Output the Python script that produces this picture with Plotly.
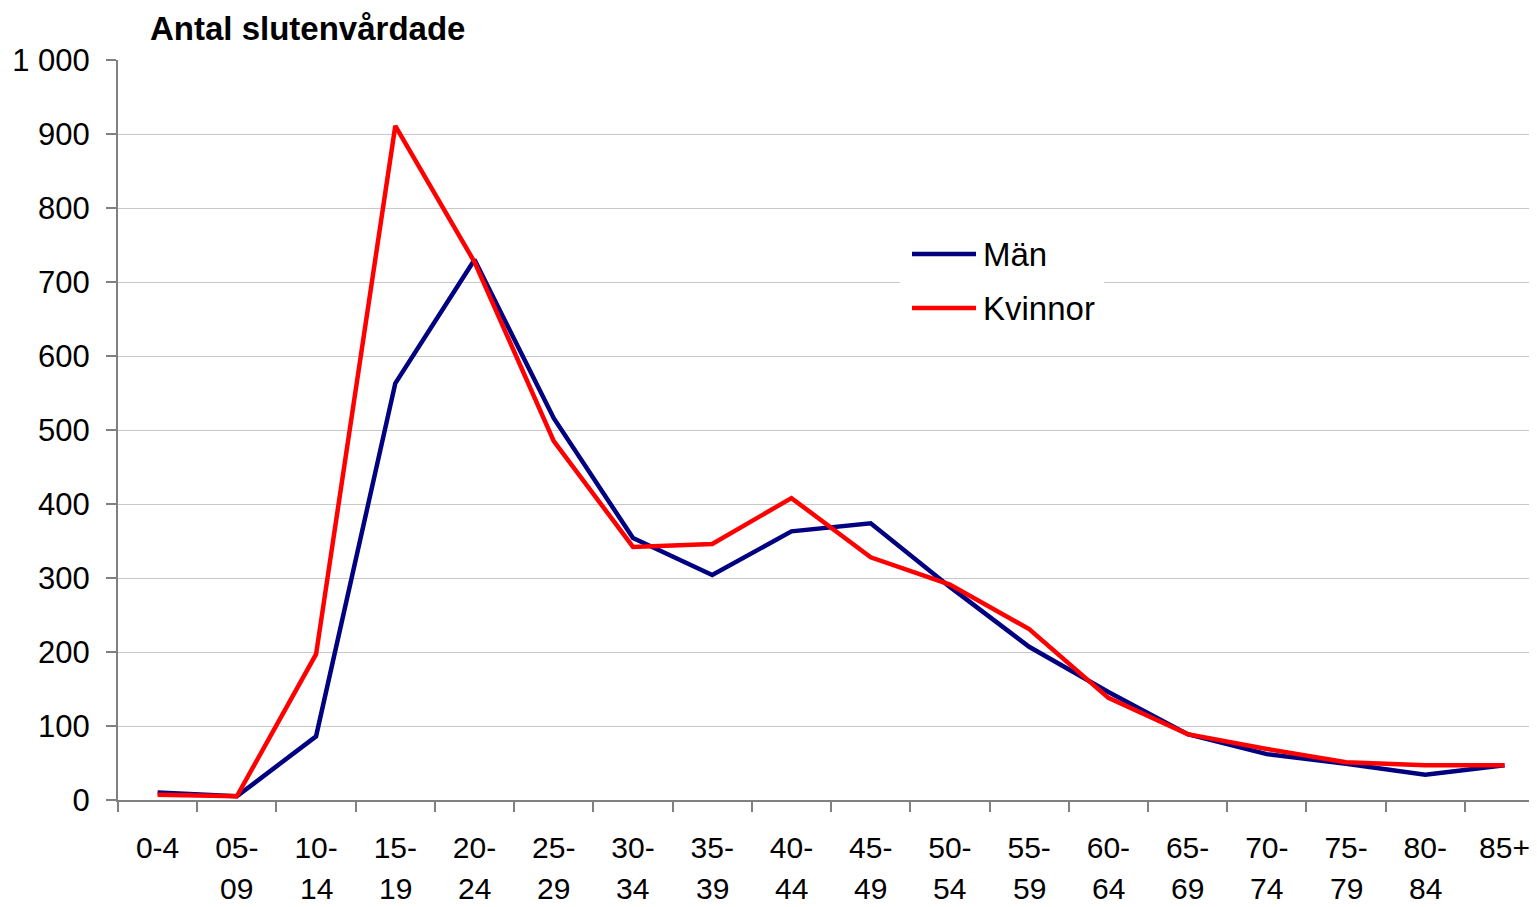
import plotly.graph_objects as go

categories = ["0-4", "05-09", "10-14", "15-19", "20-24", "25-29", "30-34", "35-39", "40-44",
              "45-49", "50-54", "55-59", "60-64", "65-69", "70-74", "75-79", "80-84", "85+"]
tick_line1 = ["0-4", "05-", "10-", "15-", "20-", "25-", "30-", "35-", "40-",
              "45-", "50-", "55-", "60-", "65-", "70-", "75-", "80-", "85+"]
tick_line2 = ["", "09", "14", "19", "24", "29", "34", "39", "44",
              "49", "54", "59", "64", "69", "74", "79", "84", ""]
man = [10, 5, 86, 563, 730, 516, 354, 304, 363, 374, 288, 207, 146, 89, 62, 49, 34, 47]
kvinnor = [7, 5, 197, 911, 727, 485, 342, 346, 408, 328, 291, 231, 138, 89, 69, 51, 47, 47]
y_ticks = [0, 100, 200, 300, 400, 500, 600, 700, 800, 900, 1000]
y_ticktext = ["0", "100", "200", "300", "400", "500", "600", "700", "800", "900", "1 000"]
series_names = ["Män", "Kvinnor"]
series_colors = ["#000080", "#FF0000"]

OFF = 8  # page body margin
W, H = 1537 - OFF, 907 - OFF
# plot area in page pixels: left 118, right 1537, top 60, bottom 800
L = 118 - OFF
T = 60 - OFF
R = 0
B = H - (800 - OFF)
pw = W - L - R
ph = H - T - B


def px_x(p):  # page pixel -> paper
    return (p - OFF - L) / pw


def px_y(p):
    return (H - B - (p - OFF)) / ph


FONT = "Liberation Sans, Arial, sans-serif"

fig = go.Figure()
fig.add_trace(go.Scatter(x=categories, y=man, mode="lines", name=series_names[0],
                         line=dict(color=series_colors[0], width=4.5), showlegend=False))
fig.add_trace(go.Scatter(x=categories, y=kvinnor, mode="lines", name=series_names[1],
                         line=dict(color=series_colors[1], width=4.5), showlegend=False))

annotations = []
# second line of category labels
for c, t in zip(categories, tick_line2):
    if t:
        annotations.append(dict(x=c, xref="x", y=px_y(906), yref="paper", text=t,
                                showarrow=False, xanchor="center", yanchor="bottom",
                                borderpad=0,
                                font=dict(family=FONT, size=30, color="black")))
# title
annotations.append(dict(x=px_x(148), xref="paper", y=px_y(28), yref="paper",
                        text="<b>Antal slutenvårdade</b>", showarrow=False,
                        xanchor="left", yanchor="middle",
                        font=dict(family=FONT, size=33, color="black")))

shapes = []
# legend box
shapes.append(dict(type="rect", xref="paper", yref="paper", x0=px_x(900), x1=px_x(1104),
                   y0=px_y(335), y1=px_y(228), fillcolor="white", line=dict(width=0), layer="above"))
leg_y = [254, 308]
for name, col, yy in zip(series_names, series_colors, leg_y):
    shapes.append(dict(type="line", xref="paper", yref="paper", x0=px_x(912), x1=px_x(976),
                       y0=px_y(yy), y1=px_y(yy), line=dict(color=col, width=4.5), layer="above"))
    annotations.append(dict(x=px_x(981), xref="paper", y=px_y(yy), yref="paper", text=name,
                            showarrow=False, xanchor="left", yanchor="middle",
                            font=dict(family=FONT, size=33, color="black")))

fig.update_layout(
    width=W, height=H,
    margin=dict(l=L, r=R, t=T, b=B, pad=0),
    paper_bgcolor="white", plot_bgcolor="white",
    font=dict(family=FONT, size=30, color="black"),
    annotations=annotations, shapes=shapes,
    xaxis=dict(type="category", range=[-0.5, 17.41], tickmode="array",
               tickvals=categories, ticktext=tick_line1, tickson="boundaries",
               ticks="outside", ticklen=10, tickwidth=2, tickcolor="#808080",
               showline=True, linecolor="#808080", linewidth=2, showgrid=False,
               ticklabelstandoff=20,
               tickfont=dict(family=FONT, size=30, color="black")),
    yaxis=dict(range=[0, 1000], tickmode="array", tickvals=y_ticks, ticktext=y_ticktext,
               ticks="outside", ticklen=10, tickwidth=2, tickcolor="#808080",
               showline=True, linecolor="#808080", linewidth=2,
               showgrid=True, gridcolor="#C8C8C8", gridwidth=1, zeroline=False,
               ticklabelstandoff=10,
               tickfont=dict(family=FONT, size=31, color="black")),
)

fig.write_html("out.html")
